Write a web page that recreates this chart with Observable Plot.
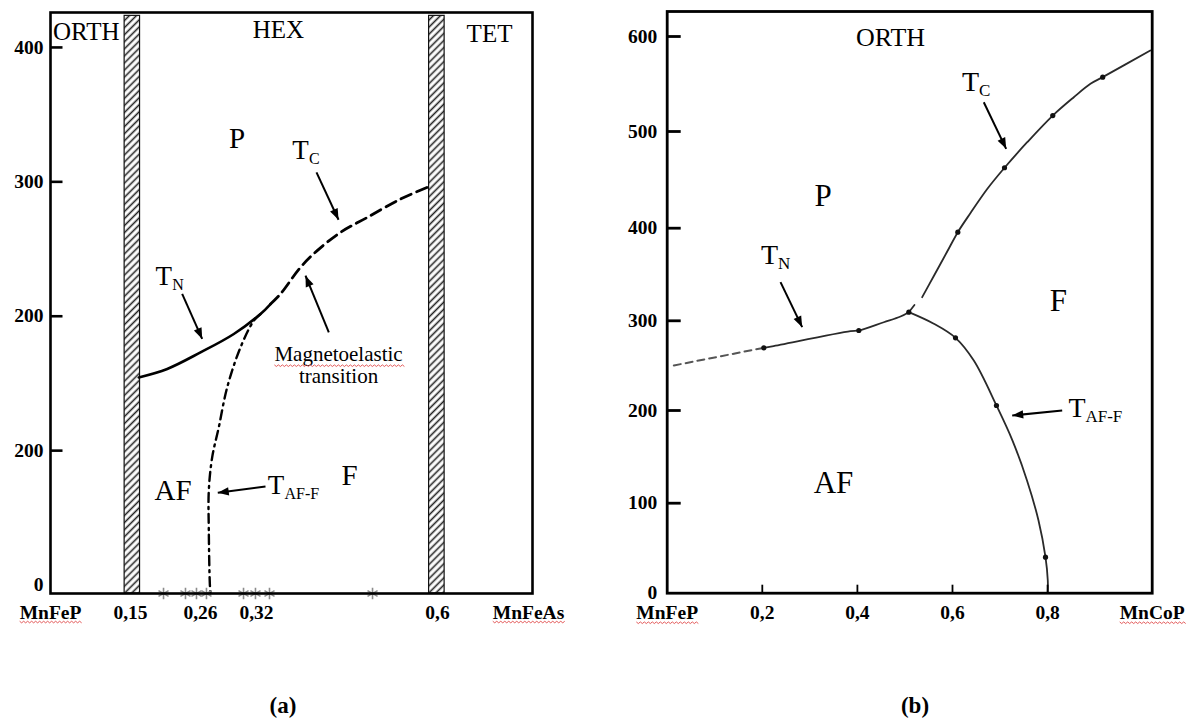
<!DOCTYPE html>
<html>
<head>
<meta charset="utf-8">
<script src="https://cdn.jsdelivr.net/npm/d3@7"></script>
<script src="https://cdn.jsdelivr.net/npm/@observablehq/plot@0.6"></script>
<style>
  html, body { margin: 0; padding: 0; background: #fff; }
  #wrap { position: relative; width: 1187px; height: 723px; overflow: hidden; background: #fff; }
  #pa { position: absolute; left: 0; top: 0; }
  #pb { position: absolute; left: 590px; top: 0; }
  .cap { position: absolute; top: 693px; font: bold 23px "Liberation Serif", "Times New Roman", serif; transform: translateX(-50%); color: #000; }
</style>
</head>
<body>
<div id="wrap">
  <div id="pa"></div>
  <div id="pb"></div>
  <div class="cap" style="left:283px">(a)</div>
  <div class="cap" style="left:915px">(b)</div>
</div>
<script>
const SERIF = '"Liberation Serif", "Times New Roman", serif';

// ================= Panel (a): MnFeP – MnFeAs =================
const aXTicks = [0, 0.15, 0.26, 0.32, 0.6, 1];
const aXTickLabels = ["MnFeP", "0,15", "0,26", "0,32", "0,6", "MnFeAs"];
const aYTicks = [0, 100, 200, 300, 400];
const aYTickLabels = ["0", "200", "200", "300", "400"];
// two-phase (hatched) boundary regions
const aBoundaryLeft = [0.139, 0.587];
const aBoundaryRight = [0.165, 0.63];
const aBoundaryTop = 423.5;
// T_N (solid)
const aTNx = [0.163, 0.2077, 0.26, 0.2957, 0.3262, 0.3417];
const aTNy = [154.5, 160.8, 173.1, 186.8, 201.7, 209.1];
// T_C (dashed)
const aTCx = [0.3417, 0.3571, 0.3881, 0.4139, 0.45, 0.4913, 0.5428, 0.587];
const aTCy = [209.1, 216.6, 236.4, 248.8, 262.4, 273.5, 287.2, 296.4];
// T_AF-F (dash-dot)
const aTAFx = [0.3262, 0.3171, 0.3029, 0.2886, 0.2796, 0.2725, 0.2689, 0.2689, 0.27, 0.2707];
const aTAFy = [201.7, 196.7, 176.9, 147.1, 117.4, 95, 70.3, 40.5, 0.9, -6.3];
// sample compositions (asterisks on the axis)
const aSamples = [0.2019, 0.2364, 0.2537, 0.2664, 0.3061, 0.3189, 0.3401, 0.4995];
// structure labels
const aStructNames = ["ORTH", "HEX", "TET"];
const aStructX = [0.067, 0.354, 0.819];
const aStructY = [411.6, 412.7, 410.2];
// phase labels
const aPhaseNames = ["P", "AF", "F"];
const aPhaseX = [0.2992, 0.2168, 0.4639];
const aPhaseY = [332.4, 70.3, 81.4];
// temperature labels T_sub
const aTSubs = ["C", "N", "AF-F"];
const aTLabX = [0.3881, 0.2023, 0.3502];
const aTLabY = [323.1, 229.6, 74];
// note
const aNoteLines = ["Magnetoelastic", "transition"];
const aNoteX = [0.4469, 0.4469];
const aNoteY = [171.4, 155.1];
// arrows
const aArrX1 = [0.2312, 0.4128, 0.4319, 0.3339];
const aArrY1 = [216.6, 307, 188, 73.3];
const aArrX2 = [0.2618, 0.4469, 0.3958, 0.2785];
const aArrY2 = [183.1, 271.8, 230.2, 68.6];

// ================= Panel (b): MnFeP – MnCoP =================
const bXTicks = [0.2, 0.4, 0.6, 0.8];
const bXTickLabels = ["0,2", "0,4", "0,6", "0,8"];
const bXEndLabels = ["MnFeP", "MnCoP"];
const bYTicks = [0, 100, 200, 300, 400, 500, 600];
const bYTickLabels = ["0", "100", "200", "300", "400", "500", "600"];
// T_N extrapolated (dashed)
const bTNdashX = [0.014, 0.2032];
const bTNdashY = [250.2, 269.9];
// T_N (solid)
const bTNx = [0.2032, 0.2208, 0.3855, 0.403, 0.4555, 0.4906, 0.5081];
const bTNy = [269.9, 271.5, 288.4, 289.2, 298.4, 304.6, 309.3];
// T_C short piece at the triple point, then main curve
const bTCstubX = [0.5081, 0.52];
const bTCstubY = [309.3, 317];
const bTCx = [0.5363, 0.5607, 0.5889, 0.6112, 0.6379, 0.673, 0.7094, 0.7571, 0.8109, 0.8551, 0.8902, 0.9159, 1.016];
const bTCy = [325.5, 348.4, 374.8, 395.7, 415.7, 440.5, 462.5, 488.9, 516.8, 536.1, 550.2, 557.2, 585.3];
// T_AF-F
const bTAFx = [0.5081, 0.5607, 0.6063, 0.6448, 0.6925, 0.7262, 0.7567, 0.7809, 0.7956, 0.8004, 0.8004];
const bTAFy = [309.3, 296.7, 281, 255.7, 205.6, 167.6, 124.5, 80.8, 40, 14.1, 0];
// measured points
const bPtX = [0.2032, 0.403, 0.5081, 0.6112, 0.7094, 0.8109, 0.9159, 0.6063, 0.6925, 0.7956];
const bPtY = [269.9, 289.2, 309.3, 395.7, 462.5, 516.8, 557.2, 281, 205.6, 40];
// labels
const bStructNames = ["ORTH"];
const bStructX = [0.4696];
const bStructY = [598.4];
const bPhaseNames = ["P", "F", "AF"];
const bPhaseX = [0.3277, 0.8229, 0.3497];
const bPhaseY = [432.8, 320.8, 121.8];
const bTSubs = ["C", "N", "AF-F"];
const bTLabX = [0.6379, 0.2151, 0.8618];
const bTLabY = [551.9, 370.5, 202.8];
// arrows
const bArrX1 = [0.2383, 0.6658, 0.8307];
const bArrY1 = [341.7, 530.8, 200];
const bArrX2 = [0.2839, 0.7129, 0.7256];
const bArrY2 = [292.9, 482.1, 194.6];

// ---------------- helpers ----------------
const pts = (xs, ys) => xs.map((x, i) => ({x, y: ys[i]}));
const labs = (names, xs, ys) => names.map((t, i) => ({t, x: xs[i], y: ys[i]}));
const arrows = (x1, y1, x2, y2) => x1.map((v, i) => ({x1: v, y1: y1[i], x2: x2[i], y2: y2[i]}));

function solidHeads(svg, len, half) {
  d3.select(svg).selectAll('g[aria-label="link"] path').each(function () {
    const L = this.getTotalLength();
    const p = this.getPointAtLength(L), q = this.getPointAtLength(Math.max(0, L - 2));
    let dx = p.x - q.x, dy = p.y - q.y; const n = Math.hypot(dx, dy) || 1;
    dx /= n; dy /= n;
    const bx = p.x - dx * len, by = p.y - dy * len;
    const P = [[p.x, p.y], [bx - dy * half, by + dx * half], [bx + dy * half, by - dx * half]];
    d3.select(this.parentNode).append("polygon")
      .attr("points", P.map(d => d.join(",")).join(" "))
      .attr("fill", "#000").attr("stroke", "none");
  });
}
// red wavy spell-check underline seen in the reference
function squiggle(svg) {
  d3.select(svg).selectAll("text")
    .filter(function () { return ["MnFeP", "MnFeAs", "MnCoP", "Magnetoelastic"].includes(this.textContent); })
    .each(function () {
      const b = this.getBBox();
      const y = b.y + b.height - 1.5;
      let d = `M${b.x},${y}`;
      for (let x = b.x, k = 0; x < b.x + b.width; x += 2, k++) d += `L${x + 2},${y + (k % 2 ? 0 : 1.6)}`;
      const p = d3.select(this.parentNode).append("path").attr("d", d)
        .attr("fill", "none").attr("stroke", "#e04848").attr("stroke-width", 0.9);
      const t = this.getAttribute("transform");
      if (t) p.attr("transform", t);
    });
}

const axisFont = {fontFamily: SERIF, fontWeight: "bold", fontSize: 19.5, fill: "#000"};

// ---------------- Panel (a) ----------------
const aW = 580, aH = 640;
const aML = 50, aMR = 48, aMT = 12, aMB = 47;
const aPlot = Plot.plot({
  width: aW, height: aH,
  marginLeft: aML, marginRight: aMR, marginTop: aMT, marginBottom: aMB,
  style: {background: "transparent", overflow: "visible", fontFamily: SERIF},
  x: {type: "linear", domain: aXTicks, range: [50, 130, 200, 256, 437, 532], axis: null},
  y: {type: "linear", domain: [-6.3, 426], axis: null},
  marks: [
    Plot.rect(aBoundaryLeft.map((x1, i) => ({x1, x2: aBoundaryRight[i], y1: -6.3, y2: aBoundaryTop})),
      {x1: "x1", x2: "x2", y1: "y1", y2: "y2", fill: "url(#hatchA)", stroke: "#111", strokeWidth: 1.2}),
    Plot.line(pts(aTNx, aTNy), {x: "x", y: "y", curve: "catmull-rom", stroke: "#000", strokeWidth: 2.6}),
    Plot.line(pts(aTCx, aTCy), {x: "x", y: "y", curve: "catmull-rom", stroke: "#000", strokeWidth: 2.8, strokeDasharray: "11,6"}),
    Plot.line(pts(aTAFx, aTAFy), {x: "x", y: "y", curve: "catmull-rom", stroke: "#000", strokeWidth: 2.4, strokeDasharray: "9,5,2,5"}),
    Plot.link(arrows(aArrX1, aArrY1, aArrX2, aArrY2), {x1: "x1", y1: "y1", x2: "x2", y2: "y2", stroke: "#000", strokeWidth: 2}),
    Plot.dot(aSamples, {x: d => d, frameAnchor: "bottom", symbol: "asterisk", r: 5.5, stroke: "#8c8c8c", strokeWidth: 1.6}),
    Plot.tickY(aYTicks.filter(v => v > 0), {y: d => d, insetRight: (aW - aML - aMR) - 12.5, stroke: "#000", strokeWidth: 2.6}),
    // axis labels
    Plot.text(aYTicks, {y: d => d, text: (d, i) => aYTickLabels[i], frameAnchor: "left", textAnchor: "end", lineAnchor: "middle", dx: -7, ...axisFont}),
    Plot.text(aXTicks.slice(1, -1), {x: d => d, text: (d, i) => aXTickLabels[i + 1], frameAnchor: "bottom", textAnchor: "middle", lineAnchor: "middle", dy: 19, ...axisFont}),
    Plot.text([aXTickLabels[0]], {text: d => d, frameAnchor: "bottom-left", textAnchor: "middle", lineAnchor: "middle", dy: 19, ...axisFont}),
    Plot.text([aXTickLabels[aXTickLabels.length - 1]], {text: d => d, frameAnchor: "bottom-right", textAnchor: "middle", lineAnchor: "middle", dx: -4, dy: 19, ...axisFont}),
    // annotations
    Plot.text(labs(aStructNames, aStructX, aStructY), {x: "x", y: "y", text: "t", fontSize: 25, fontFamily: SERIF, fill: "#000"}),
    Plot.text(labs(aPhaseNames, aPhaseX, aPhaseY), {x: "x", y: "y", text: "t", fontSize: 29, fontFamily: SERIF, fill: "#000"}),
    Plot.text(labs(aTSubs, aTLabX, aTLabY), {x: "x", y: "y", text: () => "T", fontSize: 27, fontFamily: SERIF, fill: "#000"}),
    Plot.text(labs(aTSubs, aTLabX, aTLabY), {x: "x", y: "y", text: "t", dx: 8.5, dy: 8, textAnchor: "start", fontSize: 16, fontFamily: SERIF, fill: "#000"}),
    Plot.text(labs(aNoteLines, aNoteX, aNoteY), {x: "x", y: "y", text: "t", fontSize: 21, fontFamily: SERIF, fill: "#000"}),
    Plot.frame({stroke: "#000", strokeWidth: 2.6})
  ]
});
document.getElementById("pa").appendChild(aPlot);
{
  const defs = d3.select(aPlot).insert("defs", ":first-child");
  const pat = defs.append("pattern").attr("id", "hatchA").attr("patternUnits", "userSpaceOnUse")
    .attr("width", 5).attr("height", 5).attr("patternTransform", "rotate(45)");
  pat.append("rect").attr("width", 5).attr("height", 5).attr("fill", "#fff");
  pat.append("line").attr("x1", 2.5).attr("y1", 0).attr("x2", 2.5).attr("y2", 5).attr("stroke", "#222").attr("stroke-width", 1.6);
  solidHeads(aPlot, 11, 4.2);
  squiggle(aPlot);
}

// ---------------- Panel (b) ----------------
const bW = 597, bH = 640;
const bML = 76.7, bMR = 35.3, bMT = 11, bMB = 47.3;
const bPlot = Plot.plot({
  width: bW, height: bH,
  marginLeft: bML, marginRight: bMR, marginTop: bMT, marginBottom: bMB,
  style: {background: "transparent", overflow: "visible", fontFamily: SERIF},
  x: {type: "linear", domain: [0, 1.02], axis: null},
  y: {type: "linear", domain: bYTicks, range: [592.7, 502.7, 410, 320.3, 227.7, 131, 36], axis: null},
  marks: [
    Plot.line(pts(bTNdashX, bTNdashY), {x: "x", y: "y", stroke: "#555", strokeWidth: 2, strokeDasharray: "7,5"}),
    Plot.line(pts(bTNx, bTNy), {x: "x", y: "y", curve: "catmull-rom", stroke: "#2a2a2a", strokeWidth: 1.8}),
    Plot.line(pts(bTCstubX, bTCstubY), {x: "x", y: "y", stroke: "#2a2a2a", strokeWidth: 1.8}),
    Plot.line(pts(bTCx, bTCy), {x: "x", y: "y", curve: "catmull-rom", stroke: "#2a2a2a", strokeWidth: 1.8}),
    Plot.line(pts(bTAFx, bTAFy), {x: "x", y: "y", curve: "catmull-rom", stroke: "#2a2a2a", strokeWidth: 1.8}),
    Plot.dot(pts(bPtX, bPtY), {x: "x", y: "y", r: 2.6, fill: "#111"}),
    Plot.link(arrows(bArrX1, bArrY1, bArrX2, bArrY2), {x1: "x1", y1: "y1", x2: "x2", y2: "y2", stroke: "#000", strokeWidth: 2}),
    Plot.tickY(bYTicks.filter(v => v > 0), {y: d => d, insetRight: (bW - bML - bMR) - 14, stroke: "#000", strokeWidth: 2.8}),
    Plot.tickX(bXTicks, {x: d => d, insetTop: (bH - bMT - bMB) - 8, stroke: "#000", strokeWidth: 1.8}),
    // axis labels
    Plot.text(bYTicks, {y: d => d, text: (d, i) => bYTickLabels[i], frameAnchor: "left", textAnchor: "end", lineAnchor: "middle", dx: -10, ...axisFont}),
    Plot.text(bXTicks, {x: d => d, text: (d, i) => bXTickLabels[i], frameAnchor: "bottom", textAnchor: "middle", lineAnchor: "middle", dy: 20, ...axisFont}),
    Plot.text([bXEndLabels[0]], {text: d => d, frameAnchor: "bottom-left", textAnchor: "middle", lineAnchor: "middle", dy: 20, ...axisFont}),
    Plot.text([bXEndLabels[1]], {text: d => d, frameAnchor: "bottom-right", textAnchor: "middle", lineAnchor: "middle", dy: 20, ...axisFont}),
    // annotations
    Plot.text(labs(bStructNames, bStructX, bStructY), {x: "x", y: "y", text: "t", fontSize: 26, fontFamily: SERIF, fill: "#000"}),
    Plot.text(labs(bPhaseNames, bPhaseX, bPhaseY), {x: "x", y: "y", text: "t", fontSize: 31, fontFamily: SERIF, fill: "#000"}),
    Plot.text(labs(bTSubs, bTLabX, bTLabY), {x: "x", y: "y", text: () => "T", fontSize: 28, fontFamily: SERIF, fill: "#000"}),
    Plot.text(labs(bTSubs, bTLabX, bTLabY), {x: "x", y: "y", text: "t", dx: 8.5, dy: 8.5, textAnchor: "start", fontSize: 17, fontFamily: SERIF, fill: "#000"}),
    Plot.frame({stroke: "#000", strokeWidth: 2.8})
  ]
});
document.getElementById("pb").appendChild(bPlot);
solidHeads(bPlot, 11, 4.2);
squiggle(bPlot);
</script>
</body>
</html>
